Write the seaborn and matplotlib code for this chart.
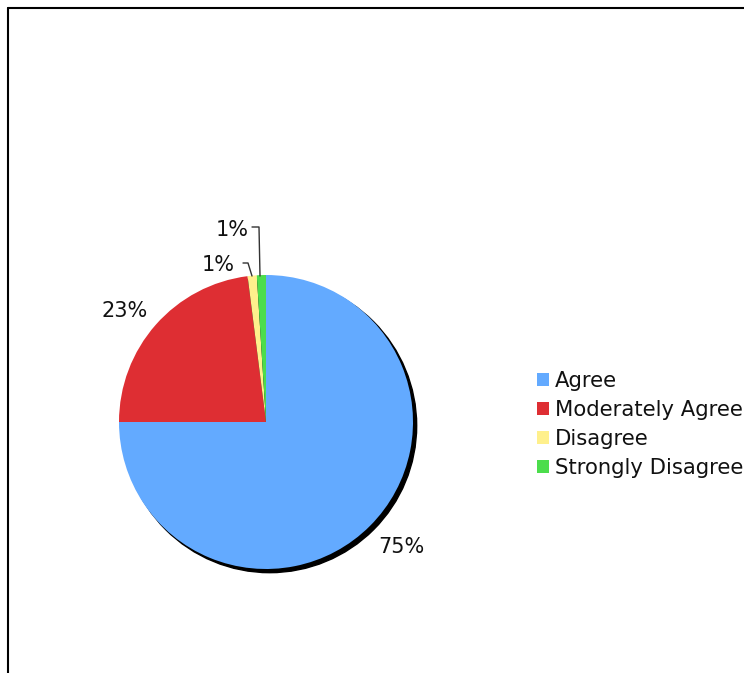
import matplotlib
matplotlib.use("Agg")
import matplotlib.pyplot as plt
import seaborn as sns
from matplotlib.lines import Line2D
from matplotlib.patches import Circle

# data
categories = ["Agree", "Moderately Agree", "Disagree", "Strongly Disagree"]
shares = [75, 23, 1, 1]
pct_labels = ["75%", "23%", "1%", "1%"]
colors = ["#63AAFF", "#DE2E33", "#FFF08C", "#4CDD4C"]

sns.set_theme(style="white")
plt.rcParams["font.family"] = ["DejaVu Sans"]

fig = plt.figure(figsize=(7.44, 6.73), dpi=100)
fig.patch.set_facecolor("white")

W, H = 744, 673
cx, cy, r = 266, 422, 147
ax = fig.add_axes([(cx - r) / W, (H - cy - r) / H, 2 * r / W, 2 * r / H])

# drop shadow behind the pie
ax.add_patch(Circle((0.025, -0.025), 1.0, color="black", zorder=0, clip_on=False))
wedges, _ = ax.pie(shares, colors=colors, startangle=90, counterclock=False,
                   radius=1.0, wedgeprops=dict(linewidth=0, clip_on=False))
ax.set_xlim(-1, 1)
ax.set_ylim(-1, 1)
ax.set_aspect("equal")
ax.axis("off")


def px(x, y):
    return ((x - cx) / r, (cy - y) / r)


label_pos = [px(401, 547), px(125, 311), px(218, 265), px(232, 230)]
for txt, (lx, ly) in zip(pct_labels, label_pos):
    ax.text(lx, ly, txt, fontsize=15, ha="center", va="center",
            color="#111111", clip_on=False)

# leader lines for the small slices
for pts in ([(243, 263), (248, 263), (252, 276)],
            [(252, 227), (259, 227), (260, 276)]):
    xs, ys = zip(*[px(a, b) for a, b in pts])
    ax.plot(xs, ys, color="#333333", lw=1, clip_on=False)

handles = [plt.Rectangle((0, 0), 1, 1, facecolor=c, edgecolor="none") for c in colors]
leg = fig.legend(handles, categories, loc="center left",
                 bbox_to_anchor=(537 / W, 1 - 424.5 / H), frameon=False,
                 fontsize=15.2, handlelength=0.55, handleheight=0.55,
                 handletextpad=0.3, labelspacing=0.42, borderaxespad=0,
                 borderpad=0)
for t in leg.get_texts():
    t.set_color("#111111")

# frame lines on the left and top
fig.add_artist(Line2D([7.5 / W, 7.5 / W], [0, 1 - 8 / H], color="black", lw=1.5,
                      transform=fig.transFigure))
fig.add_artist(Line2D([7.5 / W, 1], [1 - 8 / H, 1 - 8 / H], color="black", lw=1.5,
                      transform=fig.transFigure))

fig.savefig("out.png", dpi=100, facecolor="white")
